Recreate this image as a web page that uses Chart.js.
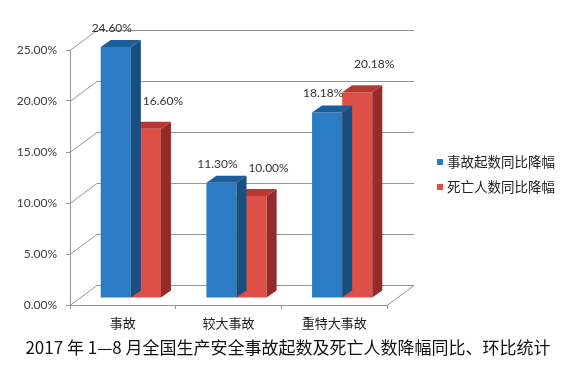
<!DOCTYPE html>
<html>
<head>
<meta charset="utf-8">
<script src="https://cdn.jsdelivr.net/npm/chart.js@4.4.0/dist/chart.umd.min.js"></script>
<style>
  html, body { margin: 0; padding: 0; background: #fff; }
</style>
</head>
<body>
<canvas id="chart" width="584" height="368"></canvas>
<script>
// 분류와 데이터
const categories = ['事故', '较大事故', '重特大事故'];
const seriesNames = ['事故起数同比降幅', '死亡人数同比降幅'];
const accidentDrop = [24.6, 11.3, 18.18];
const deathDrop = [16.6, 10.0, 20.18];
const yTicks = [0, 5, 10, 15, 20, 25];
const titleText = '2017 年 1—8 月全国生产安全事故起数及死亡人数降幅同比、环比统计';

// 입체 효과 설정
const gridColor = '#969696';
const wall = { dx: 27, dy: -20 };     // 뒷벽 깊이
const barOff = { dx: 8, dy: -7 };     // 막대 앞면 위치
const barDepth = { dx: 10, dy: -7 };  // 막대 두께
const faceColors = [
  { front: '#2a7dc5', top: '#1c5e9b', side: '#184f80' },
  { front: '#de5047', top: '#b53833', side: '#942b28' }
];
const labelOffset = [{ x: -4, y: 19 }, { x: 17, y: 28 }];
const cjkFont = '"Noto Sans CJK SC", sans-serif';

function poly(ctx, pts) {
  ctx.beginPath();
  ctx.moveTo(pts[0][0], pts[0][1]);
  for (let i = 1; i < pts.length; i++) ctx.lineTo(pts[i][0], pts[i][1]);
  ctx.closePath();
  ctx.fill();
}

const box3d = {
  id: 'box3d',
  beforeDatasetsDraw(chart) {
    const { ctx, chartArea: a, scales: { y } } = chart;
    ctx.save();
    ctx.strokeStyle = gridColor;
    ctx.lineWidth = 1;
    ctx.beginPath();
    yTicks.forEach(v => {
      const py = Math.round(y.getPixelForValue(v)) + 0.5;
      ctx.moveTo(a.left, py);
      ctx.lineTo(a.left + wall.dx, py + wall.dy);
      ctx.lineTo(a.right + wall.dx, py + wall.dy);
    });
    // 바닥 오른쪽 모서리
    const py0 = Math.round(y.getPixelForValue(0)) + 0.5;
    ctx.moveTo(a.right, py0);
    ctx.lineTo(a.right + wall.dx, py0 + wall.dy);
    ctx.stroke();
    ctx.restore();
    ctx.save();
    ctx.translate(barOff.dx, barOff.dy);
  },
  afterDatasetDraw(chart, args) {
    const ctx = chart.ctx;
    const c = faceColors[args.index];
    args.meta.data.forEach(bar => {
      const { x, y, base, width } = bar.getProps(['x', 'y', 'base', 'width'], true);
      const l = x - width / 2, r = x + width / 2;
      ctx.fillStyle = c.side;
      poly(ctx, [[r, y], [r, base], [r + barDepth.dx, base + barDepth.dy], [r + barDepth.dx, y + barDepth.dy]]);
      ctx.fillStyle = c.top;
      poly(ctx, [[l, y], [r, y], [r + barDepth.dx, y + barDepth.dy], [l + barDepth.dx, y + barDepth.dy]]);
    });
  },
  afterDatasetsDraw(chart) {
    const ctx = chart.ctx;
    ctx.restore();
    // 데이터 라벨
    ctx.save();
    ctx.font = '12px Lato';
    ctx.fillStyle = '#333';
    ctx.textAlign = 'center';
    ctx.textBaseline = 'middle';
    chart.data.datasets.forEach((ds, i) => {
      chart.getDatasetMeta(i).data.forEach((bar, j) => {
        const { x, y } = bar.getProps(['x', 'y'], true);
        ctx.fillText(ds.data[j].toFixed(2) + '%', x + barOff.dx + labelOffset[i].x, y + barOff.dy - labelOffset[i].y);
      });
    });
    ctx.restore();
  },
  afterDraw(chart) {
    const ctx = chart.ctx;
    ctx.save();
    // 범례
    ctx.font = '13.5px ' + cjkFont;
    ctx.textBaseline = 'middle';
    chart.data.datasets.forEach((ds, i) => {
      const yy = 162 + i * 25;
      ctx.fillStyle = faceColors[i].front;
      ctx.fillRect(437, yy - 3, 6, 6);
      ctx.fillStyle = '#222';
      ctx.fillText(ds.label, 447, yy);
    });
    // 제목 (아래쪽)
    ctx.font = '17px ' + cjkFont;
    ctx.fillStyle = '#111';
    ctx.textAlign = 'center';
    ctx.fillText(titleText, 288, 348);
    ctx.restore();
  }
};

new Chart(document.getElementById('chart'), {
  type: 'bar',
  data: {
    labels: categories,
    datasets: [
      { label: seriesNames[0], data: accidentDrop, backgroundColor: faceColors[0].front },
      { label: seriesNames[1], data: deathDrop, backgroundColor: faceColors[1].front }
    ]
  },
  options: {
    responsive: false,
    animation: false,
    layout: { padding: { top: 50, right: 197, left: 0, bottom: 33 } },
    datasets: { bar: { categoryPercentage: 0.57, barPercentage: 1 } },
    plugins: {
      legend: { display: false },
      tooltip: { enabled: false }
    },
    scales: {
      x: {
        grid: { offset: true, drawOnChartArea: false, tickLength: 4, color: gridColor },
        border: { color: gridColor },
        ticks: { color: '#222', padding: 6, font: { family: cjkFont, size: 13 } },
        afterFit(s) { s.height = 30; }
      },
      y: {
        min: 0,
        max: 25,
        afterBuildTicks(s) { s.ticks = yTicks.map(v => ({ value: v })); },
        grid: { drawOnChartArea: false, tickLength: 4, color: gridColor },
        border: { color: gridColor },
        ticks: {
          color: '#404040',
          padding: 9,
          font: { family: 'Lato', size: 12 },
          callback: v => v.toFixed(2) + '%'
        },
        afterFit(s) { s.width = 70; }
      }
    }
  },
  plugins: [box3d]
});
</script>
</body>
</html>
